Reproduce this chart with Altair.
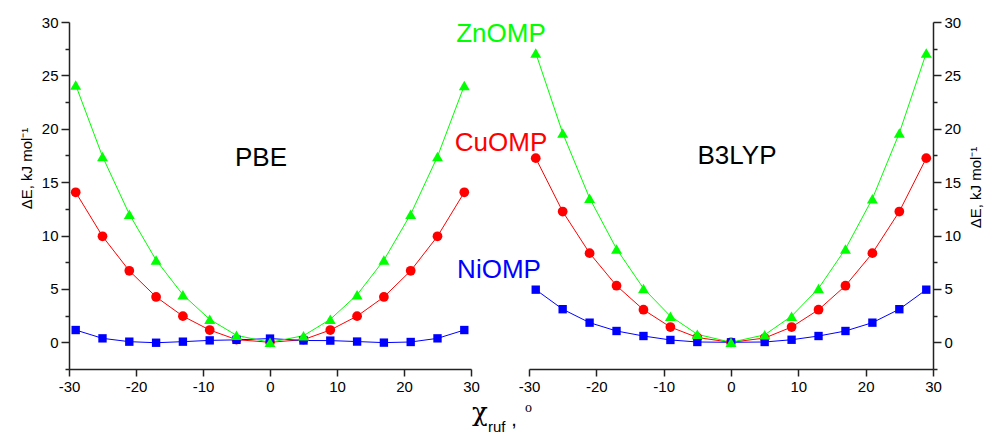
import altair as alt
import pandas as pd

# ---- data ----
chi = [-29, -25, -21, -17, -13, -9, -5, 0, 5, 9, 13, 17, 21, 25, 29]

pbe_zn = [24.1, 17.4, 12.0, 7.7, 4.45, 2.15, 0.65, 0.0, 0.62, 2.15, 4.45, 7.7, 12.0, 17.4, 24.05]
pbe_cu = [14.05, 9.93, 6.7, 4.25, 2.45, 1.15, 0.25, 0.0, 0.25, 1.15, 2.45, 4.25, 6.7, 9.93, 14.05]
pbe_ni = [1.15, 0.37, 0.06, -0.04, 0.06, 0.18, 0.23, 0.35, 0.17, 0.16, 0.07, -0.03, 0.03, 0.37, 1.15]

b3_zn = [27.1, 19.6, 13.5, 8.75, 5.05, 2.45, 0.75, 0.0, 0.7, 2.45, 5.05, 8.75, 13.45, 19.6, 27.1]
b3_cu = [17.25, 12.25, 8.35, 5.3, 3.05, 1.43, 0.45, 0.0, 0.4, 1.43, 3.05, 5.3, 8.35, 12.25, 17.25]
b3_ni = [4.93, 3.1, 1.84, 1.06, 0.59, 0.22, 0.03, 0.0, 0.03, 0.24, 0.59, 1.06, 1.84, 3.1, 4.93]

metals = ["ZnOMP", "CuOMP", "NiOMP"]
metal_colors = ["#00ff00", "#ff0000", "#0000ff"]
metal_shapes = ["triangle-up", "circle", "square"]

x_ticks = [-30, -25, -20, -15, -10, -5, 0, 5, 10, 15, 20, 25, 30]
y_major = [0, 5, 10, 15, 20, 25, 30]
y_minor = [-2.5, 2.5, 7.5, 12.5, 17.5, 22.5, 27.5]


def long_table(zn, cu, ni):
    rows = []
    for name, vals in (("CuOMP", cu), ("NiOMP", ni), ("ZnOMP", zn)):
        for c, v in zip(chi, vals):
            rows.append({"chi": c, "dE": v, "metal": name})
    return pd.DataFrame(rows)


pbe_df = long_table(pbe_zn, pbe_cu, pbe_ni)
b3_df = long_table(b3_zn, b3_cu, b3_ni)

AX = "#222222"
FONT = "Liberation Sans"

x_scale = alt.Scale(domain=[-30, 30], nice=False, zero=False)
y_scale = alt.Scale(domain=[-2.5, 30], nice=False, zero=False)
color_scale = alt.Scale(domain=metals, range=metal_colors)
shape_scale = alt.Scale(domain=metals, range=metal_shapes)
size_scale = alt.Scale(domain=metals, range=[120, 70, 60])

x_axis = alt.Axis(
    values=x_ticks,
    labelExpr="datum.value % 10 === 0 ? '' + datum.value : ''",
    tickSize={"condition": {"test": "datum.value % 10 === 0", "value": 7}, "value": 4},
    tickWidth=1.5, tickColor=AX, domainColor=AX, domainWidth=1.5,
    labelFontSize=15, labelColor="black", labelFont=FONT, labelPadding=3,
    labelOverlap=False, labelFlush=False, grid=False, title=None,
)


def y_major_axis(orient, tx, ty):
    return alt.Axis(
        orient=orient,
        values=y_major,
        tickSize=8,
        tickWidth=1.5, tickColor=AX, domainColor=AX, domainWidth=1.5,
        labelFontSize=15, labelColor="black", labelFont=FONT, labelPadding=3,
        grid=False,
        title="ΔE, kJ mol⁻¹", titleFontSize=15, titleFont=FONT,
        titleFontWeight="normal", titleColor="black",
        titleAngle=270, titleX=tx, titleY=ty, titleAlign="center", titleBaseline="middle",
    )


def y_minor_axis(orient):
    return alt.Axis(
        orient=orient, values=y_minor, tickSize=4, tickWidth=1.5, tickColor=AX,
        labels=False, domain=False, grid=False, title=None,
    )


def panel(df, orient, tx, ty):
    base = alt.Chart(df)
    lines = base.mark_line(strokeWidth=1).encode(
        x=alt.X("chi:Q", scale=x_scale, axis=x_axis),
        y=alt.Y("dE:Q", scale=y_scale, axis=y_major_axis(orient, tx, ty)),
        color=alt.Color("metal:N", scale=color_scale, legend=None),
        detail="metal:N",
    )
    pts = base.mark_point(filled=True, opacity=1, strokeWidth=0).encode(
        x=alt.X("chi:Q", scale=x_scale, axis=x_axis),
        y=alt.Y("dE:Q", scale=y_scale, axis=y_minor_axis(orient)),
        color=alt.Color("metal:N", scale=color_scale, legend=None),
        shape=alt.Shape("metal:N", scale=shape_scale, legend=None),
        size=alt.Size("metal:N", scale=size_scale, legend=None),
    )
    return lines, pts


def label(text, x, y, size, color, align="center", font=FONT):
    return alt.Chart(pd.DataFrame({"a": [0]})).mark_text(
        text=text, fontSize=size, color=color, align=align, baseline="alphabetic", font=font
    ).encode(x=alt.XDatum(x), y=alt.YDatum(y, axis=None))


l_lines, l_pts = panel(pbe_df, "left", -43, 146)
left = alt.layer(
    l_lines, l_pts,
    label("PBE", -1.34, 16.51, 26, "black"),
    label("ZnOMP", 34.48, 28.13, 26, "#00ff00"),
    label("CuOMP", 34.48, 17.92, 26, "#ff0000"),
    label("NiOMP", 34.18, 6.02, 26, "#0000ff"),
    label("χ", 31.34, -7.37, 26, "black", font="DejaVu Serif"),
    label("ruf", 32.54, -8.40, 15, "black", align="left"),
    label(",", 36.42, -7.84, 20, "black"),
    label("o", 38.58, -6.53, 14, "black", font="Liberation Serif"),
).resolve_axis(y="independent").properties(width=402, height=347)

r_lines, r_pts = panel(b3_df, "right", 42, 165)
right = alt.layer(
    r_lines, r_pts,
    label("B3LYP", 0.89, 16.70, 26, "black"),
).resolve_axis(y="independent").properties(width=404, height=347)

chart = (
    alt.hconcat(left, right, spacing=58, bounds="flush")
    .properties(padding={"left": 19, "top": 15, "right": 5, "bottom": 0})
    .configure(font=FONT)
    .configure_view(stroke="transparent", strokeWidth=0)
)

chart.save("out.html", embed_options={"renderer": "svg", "actions": False})
